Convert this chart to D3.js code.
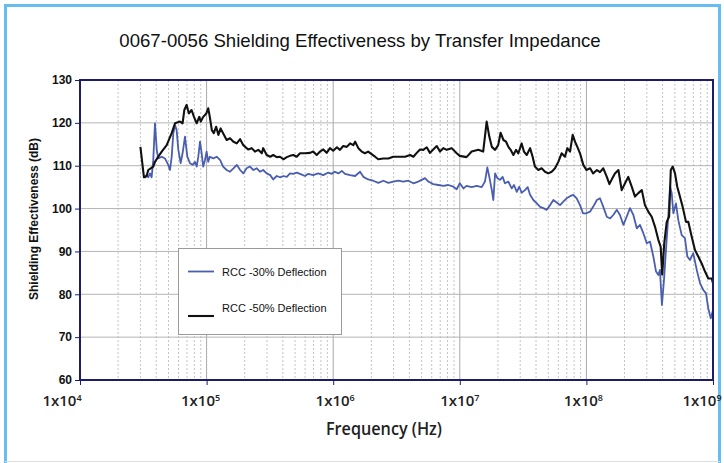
<!DOCTYPE html>
<html>
<head>
<meta charset="utf-8">
<script src="https://cdn.jsdelivr.net/npm/d3@7/dist/d3.min.js"></script>
<style>
body{margin:0;background:#fff;}
svg{display:block;}
</style>
</head>
<body>
<svg id="chart"></svg>
<script>
// RCC -30% deflection (blue)
var freq30 = [3.26e4,3.36e4,3.46e4,3.57e4,3.68e4,3.79e4,3.91e4,4.04e4,4.15e4,4.42e4,
  4.69e4,4.98e4,5.14e4,5.3e4,5.46e4,5.63e4,5.80e4,5.98e4,6.24e4,6.46e4,
  6.75e4,7.04e4,7.39e4,7.76e4,8.10e4,8.35e4,8.6e4,8.87e4,9.14e4,9.4e4,
  9.71e4,1.0e5,1.03e5,1.06e5,1.13e5,1.20e5,1.28e5,1.35e5,1.44e5,1.53e5,
  1.63e5,1.73e5,1.84e5,1.95e5,2.07e5,2.20e5,2.34e5,2.49e5,2.64e5,2.80e5,
  2.98e5,3.18e5,3.36e5,3.58e5,3.8e5,4.04e5,4.30e5,4.56e5,4.84e5,5.15e5,
  5.47e5,5.99e5,6.35e5,6.95e5,7.61e5,8.35e5,9.14e5,9.73e5,1.03e6,1.10e6,
  1.17e6,1.24e6,1.36e6,1.49e6,1.63e6,1.73e6,1.89e6,2.07e6,2.27e6,2.49e6,
  2.73e6,2.98e6,3.27e6,3.58e6,3.92e6,4.30e6,4.70e6,5.0e6,5.31e6,5.64e6,
  6.17e6,6.76e6,7.41e6,8.11e6,8.88e6,9.45e6,1.0e7,1.07e7,1.13e7,1.24e7,
  1.36e7,1.49e7,1.58e7,1.65e7,1.71e7,1.79e7,1.84e7,1.90e7,1.98e7,2.08e7,
  2.18e7,2.27e7,2.42e7,2.57e7,2.68e7,2.82e7,2.95e7,3.08e7,3.27e7,3.44e7,
  3.59e7,3.81e7,4.06e7,4.31e7,4.57e7,4.86e7,5.16e7,5.48e7,5.83e7,6.19e7,
  6.57e7,6.98e7,7.43e7,7.88e7,8.38e7,8.9e7,9.4e7,1.0e8,1.07e8,1.13e8,
  1.21e8,1.28e8,1.36e8,1.45e8,1.54e8,1.63e8,1.74e8,1.84e8,1.96e8,2.08e8,
  2.21e8,2.35e8,2.50e8,2.65e8,2.82e8,3.0e8,3.18e8,3.38e8,3.55e8,3.70e8,
  3.81e8,3.95e8,4.10e8,4.25e8,4.43e8,4.58e8,4.72e8,4.86e8,5.1e8,5.32e8,
  5.66e8,6.0e8,6.27e8,6.57e8,6.98e8,7.44e8,7.89e8,8.38e8,8.81e8,9.18e8,
  9.6e8,1.0e9];
var se30 = [107.1,107.8,107.3,108.2,107.3,111.3,119.9,113.7,111.7,112.1,
  111.7,110.2,109.0,112.1,117.6,119.5,118.3,113.7,110.6,112.9,
  116.8,112.1,110.6,110.2,110.9,109.8,112.1,115.6,112.9,109.8,
  111.3,113.3,110.9,112.1,111.7,112.1,111.3,109.8,109.0,108.6,
  109.4,110.2,109.0,108.2,109.4,109.8,109.0,109.4,108.6,109.0,
  108.2,107.8,106.8,107.6,107.3,107.6,107.4,108.2,108.1,108.4,
  108.1,107.6,108.1,107.8,108.2,107.8,108.4,108.1,108.6,108.2,
  108.8,108.1,107.8,107.6,108.6,107.4,106.8,106.5,106.0,106.5,
  106.0,106.3,106.5,106.3,106.5,105.9,106.3,106.7,107.1,106.3,
  105.7,105.5,105.3,105.5,105.1,104.5,105.9,104.7,105.3,105.0,
  105.3,105.0,106.3,109.6,107.4,104.3,102.0,108.2,107.1,106.7,
  107.4,105.9,106.3,104.7,105.5,103.9,105.1,103.7,104.3,105.0,
  103.2,102.0,101.2,100.4,100.1,99.7,100.8,102.0,101.4,100.8,
  101.6,102.4,102.9,103.2,102.4,100.8,98.9,98.9,99.3,100.4,
  102.0,102.4,100.4,98.1,97.7,98.5,99.7,98.5,96.2,98.1,
  100.1,98.5,95.4,96.2,94.2,91.9,92.3,88.8,85.3,84.5,
  85.7,77.5,83.3,90.3,98.1,105.1,103.6,98.9,101.2,97.3,
  93.8,93.1,88.8,88.0,89.6,85.7,82.6,81.0,80.2,76.7,
  74.4,76.3];

// RCC -50% deflection (black)
var freq50 = [3.0e4,3.2e4,3.36e4,3.46e4,3.62e4,3.79e4,3.91e4,4.15e4,4.42e4,4.84e4,
  5.3e4,5.63e4,6.16e4,6.46e4,6.67e4,6.95e4,7.25e4,7.61e4,7.95e4,8.35e4,
  8.75e4,9.0e4,9.4e4,9.95e4,1.03e5,1.06e5,1.10e5,1.14e5,1.19e5,1.24e5,
  1.29e5,1.35e5,1.44e5,1.53e5,1.63e5,1.73e5,1.84e5,1.95e5,2.13e5,2.27e5,
  2.41e5,2.56e5,2.73e5,2.80e5,2.98e5,3.18e5,3.36e5,3.58e5,3.8e5,4.04e5,
  4.30e5,4.56e5,4.84e5,5.15e5,5.47e5,5.99e5,6.56e5,6.95e5,7.41e5,7.87e5,
  8.35e5,8.88e5,9.43e5,1.0e6,1.07e6,1.13e6,1.20e6,1.28e6,1.36e6,1.44e6,
  1.49e6,1.58e6,1.68e6,1.78e6,1.89e6,2.01e6,2.14e6,2.27e6,2.49e6,2.73e6,
  2.98e6,3.27e6,3.69e6,4.05e6,4.30e6,4.57e6,4.85e6,5.15e6,5.48e6,5.81e6,
  6.17e6,6.58e6,6.97e6,7.41e6,7.88e6,8.63e6,9.45e6,1.0e7,1.13e7,1.24e7,
  1.40e7,1.53e7,1.63e7,1.71e7,1.79e7,1.90e7,2.01e7,2.10e7,2.21e7,2.32e7,
  2.42e7,2.52e7,2.65e7,2.78e7,2.90e7,3.08e7,3.21e7,3.38e7,3.59e7,3.76e7,
  3.92e7,4.17e7,4.43e7,4.71e7,5.0e7,5.32e7,5.65e7,6.0e7,6.37e7,6.77e7,
  7.07e7,7.43e7,7.79e7,8.13e7,8.48e7,8.9e7,9.45e7,1.0e8,1.07e8,1.13e8,
  1.21e8,1.28e8,1.36e8,1.45e8,1.52e8,1.58e8,1.68e8,1.79e8,1.90e8,2.02e8,
  2.14e8,2.28e8,2.42e8,2.57e8,2.74e8,2.90e8,3.08e8,3.28e8,3.48e8,3.70e8,
  3.86e8,3.97e8,4.12e8,4.31e8,4.50e8,4.64e8,4.81e8,5.01e8,5.22e8,5.48e8,
  5.76e8,6.12e8,6.38e8,6.79e8,7.21e8,7.65e8,8.14e8,8.65e8,9.18e8,9.77e8,
  1.0e9];
var se50 = [114.4,107.3,107.6,109.0,109.4,109.8,110.9,112.1,113.3,114.8,
  117.6,119.9,120.3,119.9,123.0,124.2,122.2,123.0,121.4,119.9,
  121.4,120.3,121.4,122.2,123.4,121.4,118.3,117.6,119.1,117.2,
  118.7,117.6,116.0,116.4,115.6,115.2,116.2,114.8,113.8,114.1,
  113.3,113.7,112.9,114.1,112.5,112.1,112.5,112.0,112.1,111.5,
  112.0,112.3,112.5,112.1,112.9,112.9,113.0,113.3,112.5,113.3,
  113.8,113.0,114.1,113.5,114.3,113.7,114.6,114.4,115.2,114.8,
  115.6,114.1,113.3,112.9,113.3,112.7,112.1,111.5,111.7,111.7,
  112.1,112.1,112.1,112.5,112.1,113.0,113.8,113.7,114.3,113.0,
  113.8,114.6,113.3,114.1,113.7,114.1,112.9,112.3,112.0,113.3,
  113.7,113.3,120.3,116.8,114.4,113.7,114.8,117.7,116.0,115.6,
  114.4,113.7,112.5,113.7,112.9,115.2,113.3,112.5,114.1,112.1,
  109.8,109.0,109.4,108.6,108.2,108.6,109.4,110.9,112.9,112.1,
  114.1,113.3,117.2,115.6,114.4,112.9,110.2,109.0,109.4,108.2,
  109.0,108.5,109.4,107.4,105.7,106.7,108.2,109.0,104.3,105.9,
  107.4,105.1,102.8,103.6,104.3,100.8,99.3,98.1,95.8,92.7,
  91.1,84.6,91.9,96.9,98.1,109.0,109.8,108.2,105.1,102.8,
  100.4,96.9,96.9,93.4,90.3,88.8,87.2,85.3,83.7,83.7,
  82.6];

var seriesNames = ["RCC -30% Deflection", "RCC -50% Deflection"];
var seriesColors = ["#4a5eb0", "#111111"];
var yTicks = [60, 70, 80, 90, 100, 110, 120, 130];
var decadeExp = [4, 5, 6, 7, 8, 9];
var titleText = "0067-0056 Shielding Effectiveness by Transfer Impedance";
var xTitle = "Frequency (Hz)";
var yTitle = "Shielding Effectiveness (dB)";

var screen = {width: 724, height: 463};
var margins = {top: 80, left: 80, right: 11, bottom: 83};
var graph = {
    width: screen.width - margins.left - margins.right,
    height: screen.height - margins.top - margins.bottom
};

var svg = d3.select("#chart")
    .attr("width", screen.width)
    .attr("height", screen.height);

// outer frame
svg.append("path")
    .attr("d", "M5.5,463 L5.5,5.5 L719.5,5.5 L719.5,463")
    .attr("fill", "none")
    .attr("stroke", "#66bdf0")
    .attr("stroke-width", 3);
svg.append("line")
    .attr("x1", 5).attr("x2", 720).attr("y1", 461.5).attr("y2", 461.5)
    .attr("stroke", "#dedede");

var xScale = d3.scaleLog()
    .domain([1e4, 1e9])
    .range([margins.left, margins.left + graph.width]);
var yScale = d3.scaleLinear()
    .domain([60, 130])
    .range([margins.top + graph.height, margins.top]);

// grid
var grid = svg.append("g").classed("grid", true);
var minors = [];
decadeExp.slice(0, -1).forEach(function(e) {
    for (var k = 2; k <= 9; k++) minors.push(k * Math.pow(10, e));
});
grid.selectAll("line.minor")
    .data(minors)
    .enter()
    .append("line")
    .attr("x1", function(d) { return xScale(d); })
    .attr("x2", function(d) { return xScale(d); })
    .attr("y1", yScale(130))
    .attr("y2", yScale(60))
    .attr("stroke", "#c4c4c4")
    .attr("stroke-dasharray", "2,2");
grid.selectAll("line.major")
    .data(decadeExp.slice(1, -1))
    .enter()
    .append("line")
    .attr("x1", function(e) { return xScale(Math.pow(10, e)); })
    .attr("x2", function(e) { return xScale(Math.pow(10, e)); })
    .attr("y1", yScale(130))
    .attr("y2", yScale(60))
    .attr("stroke", "#a8a8a8");
grid.selectAll("line.h")
    .data(yTicks.slice(1, -1))
    .enter()
    .append("line")
    .attr("x1", xScale(1e4))
    .attr("x2", xScale(1e9))
    .attr("y1", function(d) { return yScale(d); })
    .attr("y2", function(d) { return yScale(d); })
    .attr("stroke", "#b4b4b4");

// lines
var lineGenerator = d3.line()
    .x(function(d) { return xScale(d[0]); })
    .y(function(d) { return yScale(d[1]); });

var series = [d3.zip(freq30, se30), d3.zip(freq50, se50)];
svg.append("g")
    .selectAll("path")
    .data(series)
    .enter()
    .append("path")
    .attr("d", lineGenerator)
    .attr("fill", "none")
    .attr("stroke", function(d, i) { return seriesColors[i]; })
    .attr("stroke-width", function(d, i) { return i == 0 ? 1.8 : 2.1; })
    .attr("stroke-linejoin", "round");

// plot border
svg.append("rect")
    .attr("x", xScale(1e4))
    .attr("y", yScale(130))
    .attr("width", xScale(1e9) - xScale(1e4))
    .attr("height", yScale(60) - yScale(130))
    .attr("fill", "none")
    .attr("stroke", "#1c1c6a")
    .attr("stroke-width", 2);

// y axis
var yAxis = d3.axisLeft(yScale).tickValues(yTicks).tickSize(5).tickPadding(3);
var yG = svg.append("g")
    .attr("transform", "translate(" + margins.left + ",0)")
    .call(yAxis);
yG.select(".domain").remove();
yG.selectAll("line").attr("stroke", "#1c1c6a");
yG.selectAll("text")
    .attr("fill", "#111")
    .style("font", "bold 12px 'Liberation Sans', Arial, sans-serif");

// x axis ticks
var xAxis = d3.axisBottom(xScale)
    .tickValues(decadeExp.map(function(e) { return Math.pow(10, e); }))
    .tickSize(5)
    .tickFormat("");
var xG = svg.append("g")
    .attr("transform", "translate(0," + (margins.top + graph.height) + ")")
    .call(xAxis);
xG.select(".domain").remove();
xG.selectAll("line").attr("stroke", "#1c1c6a");

// x tick labels 1x10^n (the outer ones sit a little inward, as in the original)
var labelShift = [-18, -6, 2, 0, -3, -11];
var xl = svg.append("g")
    .selectAll("text")
    .data(decadeExp)
    .enter()
    .append("text")
    .attr("x", function(e, i) { return xScale(Math.pow(10, e)) + labelShift[i]; })
    .attr("y", 406)
    .attr("text-anchor", "middle")
    .attr("fill", "#222")
    .style("font", "600 15px 'Open Sans', sans-serif");
xl.append("tspan").text("1x10");
xl.append("tspan")
    .attr("dy", -5)
    .style("font-size", "9px")
    .text(function(e) { return e; });

// titles
svg.append("text")
    .attr("x", 360)
    .attr("y", 47)
    .attr("text-anchor", "middle")
    .attr("fill", "#111")
    .style("font", "18.6px 'Liberation Sans', Arial, sans-serif")
    .text(titleText);

svg.append("text")
    .attr("x", 384)
    .attr("y", 435)
    .attr("text-anchor", "middle")
    .attr("fill", "#222")
    .style("font", "600 18px 'Open Sans', sans-serif")
    .attr("transform", "translate(384,0) scale(0.9,1) translate(-384,0)")
    .text(xTitle);

svg.append("g")
    .attr("transform", "translate(38,219)")
    .append("text")
    .attr("transform", "rotate(-90)")
    .attr("text-anchor", "middle")
    .attr("fill", "#111")
    .style("font", "bold 12px 'Liberation Sans', Arial, sans-serif")
    .text(yTitle);

// legend
var legend = svg.append("g").classed("legend", true);
legend.append("rect")
    .attr("x", 178.5)
    .attr("y", 248.5)
    .attr("width", 163)
    .attr("height", 86)
    .attr("fill", "#fff")
    .attr("stroke", "#9a9a9a");
var legendRows = [
    {lineY: 271.5, textY: 275.5},
    {lineY: 316, textY: 312}
];
legend.selectAll("line")
    .data(seriesNames)
    .enter()
    .append("line")
    .attr("x1", 188)
    .attr("x2", 214)
    .attr("y1", function(d, i) { return legendRows[i].lineY; })
    .attr("y2", function(d, i) { return legendRows[i].lineY; })
    .attr("stroke", function(d, i) { return seriesColors[i]; })
    .attr("stroke-width", function(d, i) { return i == 0 ? 1.8 : 2.1; });
legend.selectAll("text")
    .data(seriesNames)
    .enter()
    .append("text")
    .attr("x", 222)
    .attr("y", function(d, i) { return legendRows[i].textY; })
    .attr("fill", "#111")
    .style("font", "11px 'Liberation Sans', Arial, sans-serif")
    .text(function(d) { return d; });
</script>
</body>
</html>
